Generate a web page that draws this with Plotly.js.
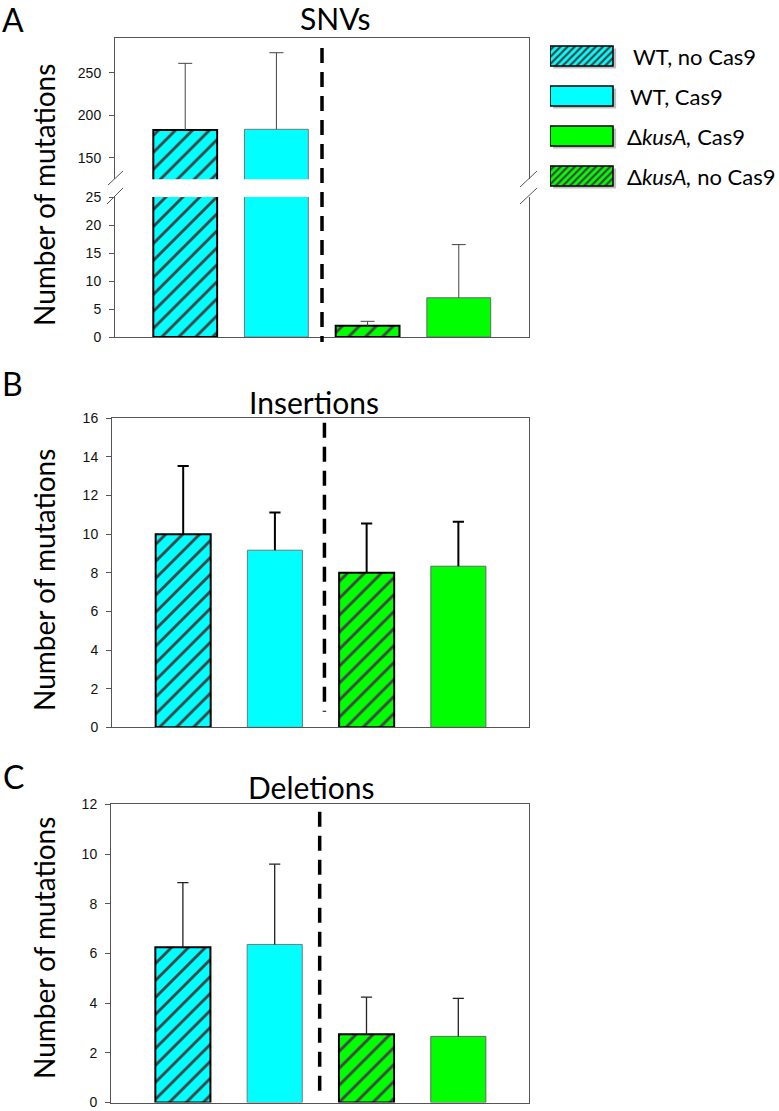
<!DOCTYPE html>
<html><head><meta charset="utf-8">
<script src="https://cdn.plot.ly/plotly-3.0.1.min.js"></script>
<style>html,body{margin:0;padding:0;background:#fff;} #chart{width:779px;height:1111px;}</style>
</head><body><div id="chart"></div>
<script>
// ---------- data ----------
const categories = ["WT, no Cas9", "WT, Cas9", "ΔkusA, no Cas9", "ΔkusA, Cas9"];
const snvMean = [182.6, 183.4, 2.0, 7.0];
const snvErr  = [78.4, 90.1, 0.8, 9.5];
const insMean = [10.0, 9.17, 8.0, 8.34];
const insErr  = [3.53, 1.95, 2.55, 2.3];
const delMean = [6.25, 6.36, 2.75, 2.66];
const delErr  = [2.6, 3.23, 1.49, 1.53];
const snvUpperTicks = [150, 200, 250];
const snvLowerTicks = [0, 5, 10, 15, 20, 25];
const insTicks = [0, 2, 4, 6, 8, 10, 12, 14, 16];
const delTicks = [0, 2, 4, 6, 8, 10, 12];
const legendOrder  = ["WT, no Cas9", "WT, Cas9", "ΔkusA, Cas9", "ΔkusA, no Cas9"];
const legendLabels = ["WT, no Cas9", "WT, Cas9", "Δ<i>kusA,</i> Cas9", "Δ<i>kusA,</i> no Cas9"];
const panelTitles  = ["SNVs", "Insertions", "Deletions"];
const panelLetters = ["A", "B", "C"];
const yTitle = "Number of mutations";

// ---------- styles ----------
const CYAN = '#00FFFF', GREEN = '#00FF00';
const style = {
  "WT, no Cas9":    {color: CYAN,  hatch: '/', lw: 2, lc: '#000'},
  "WT, Cas9":       {color: CYAN,  hatch: '',  lw: 1, lc: '#777'},
  "ΔkusA, no Cas9": {color: GREEN, hatch: '/', lw: 2, lc: '#000'},
  "ΔkusA, Cas9":    {color: GREEN, hatch: '',  lw: 1, lc: '#666'}
};
const W = 779, H = 1111;
const px = x => x / W;
const py = y => 1 - y / H;
const CAL = 'Lato, "Open Sans", sans-serif';
const ARI = '"Liberation Sans", Arial, sans-serif';

function patternFor(cats, size, sol) {
  return {shape: cats.map(c => style[c].hatch), bgcolor: cats.map(c => style[c].color),
          fgcolor: cats.map(() => '#000'), fgopacity: 1, size: size, solidity: sol, fillmode: 'overlay'};
}

function barTraces(cats, xa, ya, means, errs, width, es) {
  const bar = {
    type: 'bar', x: cats, y: means, xaxis: xa, yaxis: ya, width: width,
    marker: {
      color: cats.map(c => style[c].color),
      pattern: patternFor(cats, 12, 0.24),
      line: {color: cats.map(c => style[c].lc), width: cats.map(c => style[c].lw)}
    },
    error_y: {type: 'data', symmetric: false, array: errs, arrayminus: errs.map(() => 0),
              color: es.color, thickness: es.t, width: 0},
    hoverinfo: 'skip', showlegend: false
  };
  const caps = {
    type: 'scatter', mode: 'markers', x: cats, y: means.map((m, i) => m + errs[i]), xaxis: xa, yaxis: ya,
    marker: {symbol: 'line-ew', size: es.w, color: es.color, line: {color: es.color, width: es.t}},
    cliponaxis: true, hoverinfo: 'skip', showlegend: false
  };
  return [bar, caps];
}

const esA = {color: '#444', t: 1, w: 10};
const esB = {color: '#000', t: 2, w: 8};
const esC = {color: '#222', t: 1.3, w: 8};

const traces = [].concat(
  barTraces(categories, 'x',  'y',  snvMean, snvErr, 0.70, esA),
  barTraces(categories, 'x2', 'y2', snvMean, snvErr, 0.70, esA),
  barTraces(categories, 'x3', 'y3', insMean, insErr, 0.60, esB),
  barTraces(categories, 'x4', 'y4', delMean, delErr, 0.60, esC),
  [
    // legend swatch shadows
    {type: 'bar', orientation: 'h', y: legendOrder, x: legendOrder.map(() => 1), base: 0.05,
     offset: -0.19, width: 0.5, xaxis: 'x5', yaxis: 'y5',
     marker: {color: 'rgba(0,0,0,0.25)', line: {width: 0}}, hoverinfo: 'skip', showlegend: false},
    // legend swatches
    {type: 'bar', orientation: 'h', y: legendOrder, x: legendOrder.map(() => 1), width: 0.5,
     xaxis: 'x5', yaxis: 'y5',
     marker: {color: legendOrder.map(c => style[c].color),
              pattern: patternFor(legendOrder, 5, 0.45),
              line: {color: '#000', width: 1.5}},
     hoverinfo: 'skip', showlegend: false}
  ]
);

const axLine = {showline: true, linecolor: '#555', linewidth: 1, showgrid: false, zeroline: false, fixedrange: true};
const xCommon = Object.assign({}, axLine, {type: 'category', categoryarray: categories, categoryorder: 'array',
  showticklabels: false, ticks: ''});
const yCommon = Object.assign({}, axLine, {mirror: true, ticks: 'outside', ticklen: 5, tickcolor: '#555',
  ticklabelstandoff: 5, ticklabeloverflow: 'allow',
  tickfont: {family: ARI, size: 14, color: '#111'}});

const dash = {color: '#000', width: 3.5, dash: '15px,9px'};
const brk = {color: '#555', width: 1};

const layout = {
  width: W, height: H, margin: {l: 0, r: 0, t: 0, b: 0},
  paper_bgcolor: '#fff', plot_bgcolor: 'rgba(0,0,0,0)', showlegend: false, barmode: 'overlay',
  xaxis:  Object.assign({}, xCommon, {domain: [px(115), px(529)], range: [-0.77, 3.77], anchor: 'y'}),
  xaxis2: Object.assign({}, xCommon, {domain: [px(115), px(529)], range: [-0.77, 3.77], anchor: 'y2', side: 'top'}),
  yaxis:  Object.assign({}, yCommon, {domain: [py(337), py(197)], range: [0, 25], tickvals: snvLowerTicks, anchor: 'x'}),
  yaxis2: Object.assign({}, yCommon, {domain: [py(179.3), py(38)], range: [124.6, 290.8], tickvals: snvUpperTicks, anchor: 'x2'}),
  xaxis3: Object.assign({}, xCommon, {domain: [px(112), px(529)], range: [-0.776, 3.77], anchor: 'y3', mirror: true}),
  yaxis3: Object.assign({}, yCommon, {domain: [py(727.3), py(418.3)], range: [0, 16], tickvals: insTicks, anchor: 'x3'}),
  xaxis4: Object.assign({}, xCommon, {domain: [px(111), px(529)], range: [-0.783, 3.77], anchor: 'y4', mirror: true}),
  yaxis4: Object.assign({}, yCommon, {domain: [py(1102.5), py(804.3)], range: [0, 12], tickvals: delTicks, anchor: 'x4'}),
  xaxis5: {domain: [px(550), px(616.8)], range: [0, 1.06], anchor: 'y5', visible: false, fixedrange: true},
  yaxis5: {domain: [py(196), py(36)], range: [3.5, -0.5], anchor: 'x5', type: 'category',
           categoryarray: legendOrder, categoryorder: 'array', visible: false, fixedrange: true},
  shapes: [
    {type: 'line', xref: 'x',  yref: 'paper', x0: 1.5,  x1: 1.5,  y0: py(48),    y1: py(342),  line: dash},
    {type: 'line', xref: 'x3', yref: 'paper', x0: 1.54, x1: 1.54, y0: py(422.7), y1: py(711.7), line: dash},
    {type: 'line', xref: 'x4', yref: 'paper', x0: 1.49, x1: 1.49, y0: py(811.7), y1: py(1098), line: dash},
    {type: 'line', xref: 'paper', yref: 'paper', x0: px(108), y0: py(185), x1: px(123), y1: py(171), line: brk},
    {type: 'line', xref: 'paper', yref: 'paper', x0: px(107), y0: py(204), x1: px(123), y1: py(188), line: brk},
    {type: 'line', xref: 'paper', yref: 'paper', x0: px(520), y0: py(187), x1: px(537), y1: py(171), line: brk},
    {type: 'line', xref: 'paper', yref: 'paper', x0: px(520), y0: py(204), x1: px(537), y1: py(188), line: brk}
  ],
  annotations: []
};

const letterPos = [[13, 19], [12, 384], [13, 776]];
const titlePos = [[335, 18], [314, 402], [311, 787]];
const yTitlePos = [[44, 195], [44, 580], [44, 948]];
for (let i = 0; i < 3; i++) {
  layout.annotations.push({text: panelLetters[i], xref: 'paper', yref: 'paper', x: px(letterPos[i][0]), y: py(letterPos[i][1]),
    xanchor: 'center', yanchor: 'middle', showarrow: false, font: {family: CAL, size: 32, color: '#000'}});
  layout.annotations.push({text: panelTitles[i], xref: 'paper', yref: 'paper', x: px(titlePos[i][0]), y: py(titlePos[i][1]),
    xanchor: 'center', yanchor: 'middle', showarrow: false, font: {family: CAL, size: 30, color: '#000'}});
  layout.annotations.push({text: yTitle, textangle: -90, xref: 'paper', yref: 'paper', x: px(yTitlePos[i][0]), y: py(yTitlePos[i][1]),
    xanchor: 'center', yanchor: 'middle', showarrow: false, font: {family: CAL, size: 28, color: '#000'}});
}
const legTextX = [631, 628, 625, 625];
legendOrder.forEach((c, i) => {
  layout.annotations.push({text: legendLabels[i], xref: 'paper', yref: 'y5', x: px(legTextX[i]), y: c,
    xanchor: 'left', yanchor: 'middle', showarrow: false, font: {family: CAL, size: 22, color: '#000'}});
});

Plotly.newPlot('chart', traces, layout, {displayModeBar: false, staticPlot: true});
</script></body></html>
